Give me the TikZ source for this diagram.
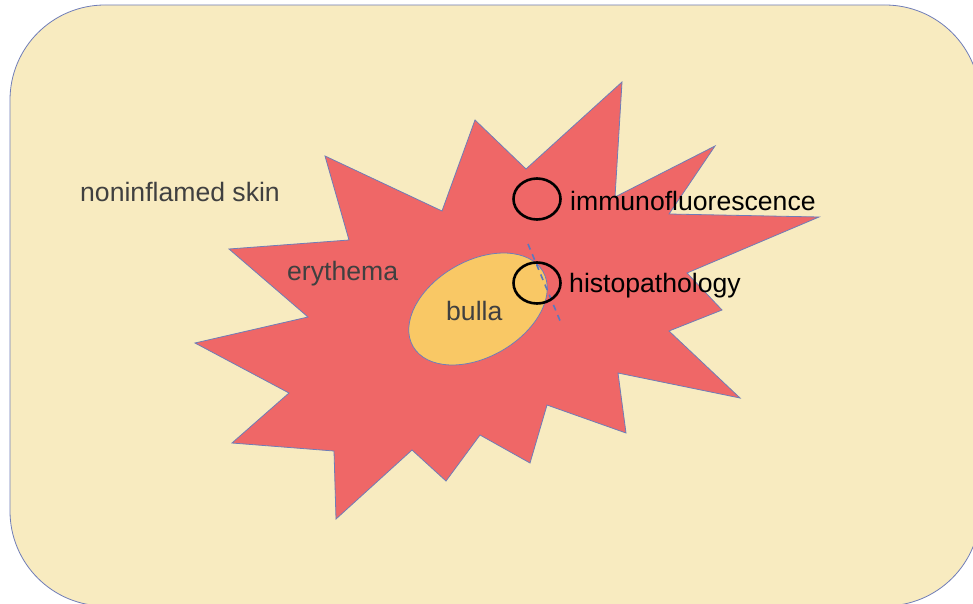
\documentclass[tikz,border=0pt]{standalone}
\usepackage{fontspec}
\setmainfont{Liberation Sans}
\usepackage{tikz}
\usetikzlibrary{positioning}
\usetikzlibrary{calc}
\usetikzlibrary{shapes.geometric}

\definecolor{skin}{HTML}{F8EBC0}
\definecolor{rash}{HTML}{EF6767}
\definecolor{blister}{HTML}{F9C865}
\definecolor{edge}{HTML}{6F7DB8}
\definecolor{cut}{HTML}{5A78C0}
\definecolor{greytext}{HTML}{404040}

\begin{document}
\begin{tikzpicture}[x=1pt, y=-1pt,
    every node/.style={font=\fontsize{26.6}{30}\selectfont, inner sep=0pt},
    region/.style={draw=edge, line width=0.8pt},
    spot/.style={draw=black, line width=2.6pt, ellipse, minimum width=47pt, minimum height=41pt},
    tag/.style={anchor=base west, text=black},
    note/.style={anchor=base west, text=greytext}]

    \useasboundingbox (0,0) rectangle (973,604);
    \clip (0,0) rectangle (973,604);

    % skin
    \draw[region, fill=skin, rounded corners=95pt] (10,5) rectangle (980,606);

    % erythema
    \draw[region, fill=rash] (622,82) -- (526,169) -- (475,120) -- (442,211) -- (325,156)
        -- (349,240) -- (229,249) -- (308,317) -- (195,343) -- (289,393) -- (232,443)
        -- (334,451) -- (336,519) -- (412,450) -- (446,481) -- (480,435) -- (530,463)
        -- (547,405) -- (626,433) -- (618,373) -- (740,398) -- (669,331) -- (722,310)
        -- (687,273) -- (819,217) -- (669,214) -- (715,146) -- (615,197) -- cycle;

    % bulla
    \draw[region, fill=blister, rotate around={30:(478,309)}] (478,309) ellipse [x radius=75pt, y radius=48pt];

    \coordinate (cuta) at (528,244);
    \coordinate (cutb) at (561,323);
    \draw[cut, line width=1.6pt, dash pattern=on 6pt off 5pt] (cuta) -- (cutb);

    \node[spot] (if) at (537,199) {};
    \node[spot] (hp) at (537,283) {};

    \node[tag] (iflabel) at (570,210) {immunofluorescence};
    \node[tag] (hplabel) at (569,292) {histopathology};

    \node[note] (normal) at (80,201) {noninflamed skin};
    \node[note] (ery) at (287,280) {erythema};
    \node[note] (bul) at (446,320) {bulla};

\end{tikzpicture}
\end{document}
